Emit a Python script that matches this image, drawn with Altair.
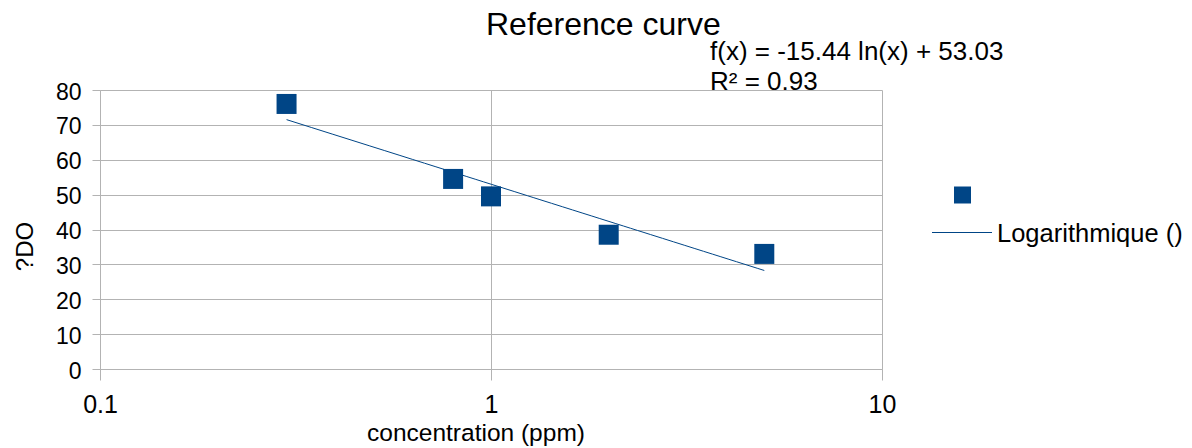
import altair as alt
import pandas as pd

# data
concentration = [0.3, 0.8, 1.0, 2.0, 5.0]
delta_do = [76.0, 54.5, 49.5, 38.5, 33.0]
x_ticks = [0.1, 1, 10]
y_ticks = [0, 10, 20, 30, 40, 50, 60, 70, 80]
title_text = ["Reference curve"]
equation_line1 = ["f(x) = -15.44 ln(x) + 53.03"]
equation_line2 = ["R² = 0.93"]
legend_label = ["Logarithmique ()"]

BLUE = "#004586"
GRID = "#b3b3b3"
FONT = "Liberation Sans"

df = pd.DataFrame({"x": concentration, "y": delta_do})

xscale = alt.Scale(type="log", domain=[0.1, 10])
yscale = alt.Scale(domain=[0, 80])

xaxis = alt.Axis(
    values=x_ticks, format="~g", title="concentration (ppm)",
    grid=True, gridColor=GRID, domainColor=GRID, tickColor=GRID, tickSize=11,
    labelFont=FONT, labelFontSize=25, labelColor="black", labelPadding=12,
    labelFlush=False, labelOverlap=False,
    titleFont=FONT, titleFontSize=24.5, titleFontWeight="normal", titleColor="black",
    titleX=375.5, titleY=71, titleBaseline="alphabetic", titleAlign="center")
yaxis = alt.Axis(
    values=y_ticks, tickCount=9, title="?DO",
    grid=True, gridColor=GRID, domainColor=GRID, tickColor=GRID, tickSize=8,
    labelFont=FONT, labelFontSize=23, labelColor="black", labelPadding=11, labelOffset=2,
    labelOverlap=False, labelFlush=False,
    titleFont=FONT, titleFontSize=24, titleFontWeight="normal", titleColor="black",
    titleAngle=270, titleX=-68, titleY=156, titleBaseline="alphabetic", titleAlign="center")

xenc = alt.X("x:Q", scale=xscale, axis=xaxis)
yenc = alt.Y("y:Q", scale=yscale, axis=yaxis)

base = alt.Chart(df)

trend = base.transform_regression("x", "y", method="log", extent=[0.3, 5]).mark_line(
    color=BLUE, strokeWidth=1
).encode(x=xenc, y=yenc)

points = base.mark_point(shape="square", filled=True, size=400, color=BLUE, opacity=1).encode(
    x=xenc, y=yenc)


def label(texts, x, y, size, align="left", baseline="alphabetic"):
    return alt.Chart(pd.DataFrame({"t": texts})).mark_text(
        font=FONT, fontSize=size, align=align, baseline=baseline, color="black"
    ).encode(text="t:N", x=alt.value(x), y=alt.value(y))


title = label(title_text, 386, -55.5, 32)
eq1 = label(equation_line1, 610, -30, 26)
eq2 = label(equation_line2, 610, 0, 26)
leg_text = label(legend_label, 897, 151.5, 25.5)

leg_sq = alt.Chart(pd.DataFrame({"t": [""]})).mark_point(
    shape="square", filled=True, size=289, color=BLUE, opacity=1
).encode(x=alt.value(862.5), y=alt.value(105))

leg_line = alt.Chart(pd.DataFrame({"t": [""]})).mark_rule(color=BLUE, strokeWidth=1).encode(
    x=alt.value(832), x2=alt.value(892), y=alt.value(142.5))

chart = alt.layer(trend, points, title, eq1, eq2, leg_sq, leg_line, leg_text).properties(
    width=782, height=279,
    autosize=alt.AutoSizeParams(type="none"),
    padding={"left": 100, "top": 90, "right": 310, "bottom": 79},
    background="white",
).configure_view(stroke=None)

chart.save("out.html", embed_options={"renderer": "svg", "actions": False})
